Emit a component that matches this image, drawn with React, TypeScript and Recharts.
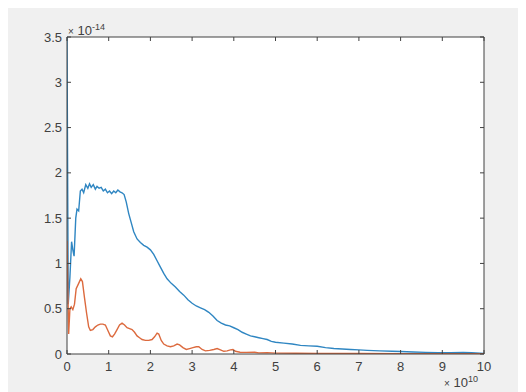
import React from "react";
import {
  CartesianGrid,
  Line,
  LineChart,
  XAxis,
  YAxis,
} from "recharts";

// x in units of 1e10, y in units of 1e-14
const xTicks = [0, 1, 2, 3, 4, 5, 6, 7, 8, 9, 10];
const yTicks = [0, 0.5, 1, 1.5, 2, 2.5, 3, 3.5];

const blueX = [
  0, 0.03, 0.07, 0.11, 0.14, 0.17, 0.21, 0.24, 0.28, 0.32, 0.36, 0.4, 0.45, 0.5,
  0.54, 0.58, 0.63, 0.68, 0.72, 0.77, 0.82, 0.87, 0.92, 0.97, 1.02, 1.07, 1.12,
  1.17, 1.22, 1.27, 1.32, 1.37, 1.42, 1.48, 1.54, 1.6, 1.68, 1.76, 1.84, 1.92,
  2.0, 2.08, 2.16, 2.24, 2.32, 2.4, 2.5, 2.6, 2.7, 2.8, 2.9, 3.0, 3.1, 3.2, 3.3,
  3.4, 3.5, 3.6, 3.7, 3.8, 3.9, 4.0, 4.1, 4.2, 4.3, 4.4, 4.5, 4.6, 4.7, 4.8, 4.9,
  5.0, 5.2, 5.4, 5.6, 5.8, 6.0, 6.2, 6.4, 6.6, 6.8, 7.0, 7.2, 7.5, 7.8, 8.0, 8.3,
  8.6, 8.9, 9.2, 9.5, 9.7, 10,
];
const blueY = [
  3.5, 0.55, 0.85, 1.24, 1.15, 1.08, 1.5, 1.6, 1.58, 1.8, 1.82, 1.78, 1.87, 1.83,
  1.88, 1.84, 1.87, 1.82, 1.85, 1.83, 1.84, 1.8, 1.82, 1.78, 1.8, 1.77, 1.8,
  1.78, 1.81, 1.79, 1.78, 1.76, 1.68, 1.55, 1.45, 1.35, 1.27, 1.23, 1.2, 1.18,
  1.15, 1.1, 1.03, 0.96, 0.89, 0.83, 0.78, 0.74, 0.69, 0.65, 0.6, 0.56, 0.53,
  0.51, 0.49, 0.46, 0.42, 0.37, 0.34, 0.32, 0.31, 0.29, 0.27, 0.24, 0.22, 0.2,
  0.19, 0.18, 0.17, 0.16, 0.14, 0.13, 0.12, 0.11, 0.095, 0.09, 0.085, 0.07, 0.06,
  0.055, 0.05, 0.045, 0.04, 0.035, 0.03, 0.027, 0.022, 0.018, 0.015, 0.014,
  0.016, 0.015, 0.005,
];

const orangeX = [
  0, 0.04, 0.07, 0.1, 0.14, 0.18, 0.22, 0.28, 0.33, 0.37, 0.42, 0.47, 0.52, 0.56,
  0.62, 0.68, 0.74, 0.8, 0.86, 0.92, 0.98, 1.04, 1.09, 1.14, 1.2, 1.26, 1.32,
  1.38, 1.44, 1.5, 1.56, 1.62, 1.68, 1.74, 1.8, 1.88, 1.96, 2.04, 2.1, 2.16, 2.2,
  2.26, 2.32, 2.4, 2.48, 2.56, 2.64, 2.7, 2.78, 2.86, 2.94, 3.02, 3.1, 3.16, 3.24,
  3.32, 3.42, 3.52, 3.6, 3.68, 3.76, 3.84, 3.92, 3.98, 4.04, 4.15, 4.3, 4.5, 4.6,
  4.8, 5.0, 5.5, 6.0, 7.0, 8.0, 9.0, 10,
];
const orangeY = [
  1.25, 0.22, 0.5, 0.52, 0.49, 0.55, 0.72, 0.78, 0.83, 0.8, 0.62, 0.45, 0.3, 0.26,
  0.27, 0.3, 0.32, 0.33, 0.33, 0.32, 0.26, 0.2, 0.19, 0.22, 0.27, 0.32, 0.34,
  0.32, 0.29, 0.28, 0.27, 0.24, 0.2, 0.18, 0.16, 0.15, 0.15, 0.16, 0.19, 0.23,
  0.22, 0.15, 0.11, 0.09, 0.08, 0.09, 0.11, 0.1, 0.07, 0.05, 0.06, 0.07, 0.08,
  0.08, 0.05, 0.035, 0.04, 0.05, 0.06, 0.045, 0.03, 0.035, 0.045, 0.05, 0.03,
  0.02, 0.018, 0.02, 0.012, 0.015, 0.01, 0.008, 0.007, 0.005, 0.004, 0.003, 0.002,
];

const blueData = blueX.map((x, i) => ({ x, y: blueY[i] }));
const orangeData = orangeX.map((x, i) => ({ x, y: orangeY[i] }));

const axisColor = "#404040";
const font = "'Liberation Sans', Arial, sans-serif";

export default function App() {
  const noTick = () => <g />;
  return (
    <div
      style={{
        position: "relative",
        width: 518,
        height: 384,
        background: "#f0f0f0",
        fontFamily: font,
        color: axisColor,
      }}
    >
      <LineChart
        width={518}
        height={384}
        margin={{ top: 28, right: 41, left: 0, bottom: 0 }}
      >
        <CartesianGrid fill="#ffffff" horizontal={false} vertical={false} />
        <XAxis
          dataKey="x"
          type="number"
          domain={[0, 10]}
          ticks={xTicks}
          height={38}
          allowDataOverflow
          stroke={axisColor}
          tickSize={-4}
          tickMargin={12}
          tick={{ fontSize: 13, fill: axisColor, fontFamily: font }}
        />
        <XAxis
          xAxisId="top"
          orientation="top"
          dataKey="x"
          type="number"
          domain={[0, 10]}
          ticks={xTicks}
          height={1}
          stroke={axisColor}
          tickSize={-4}
          tick={noTick}
        />
        <YAxis
          type="number"
          domain={[0, 3.5]}
          ticks={yTicks}
          width={59}
          allowDataOverflow
          stroke={axisColor}
          tickSize={-4}
          tickMargin={9}
          tick={{ fontSize: 13, fill: axisColor, fontFamily: font }}
        />
        <YAxis
          yAxisId="right"
          orientation="right"
          type="number"
          domain={[0, 3.5]}
          ticks={yTicks}
          width={1}
          stroke={axisColor}
          tickSize={-4}
          tick={noTick}
        />
        <Line
          data={blueData}
          dataKey="y"
          stroke="#2f86c2"
          strokeWidth={1.4}
          dot={false}
          isAnimationActive={false}
        />
        <Line
          data={orangeData}
          dataKey="y"
          stroke="#dc6a3e"
          strokeWidth={1.4}
          dot={false}
          isAnimationActive={false}
        />
        {/* invisible series so the top/right box axes get drawn */}
        <Line
          data={orangeData}
          dataKey="y"
          xAxisId="top"
          yAxisId="right"
          stroke="none"
          dot={false}
          activeDot={false}
          legendType="none"
          isAnimationActive={false}
        />
      </LineChart>
      <div
        style={{
          position: "absolute",
          left: 60,
          top: 14,
          fontSize: 13,
          whiteSpace: "nowrap",
        }}
      >
        <span style={{ fontSize: 10 }}>×</span> 10
        <sup style={{ fontSize: 9 }}>-14</sup>
      </div>
      <div
        style={{
          position: "absolute",
          left: 436,
          top: 366,
          fontSize: 13,
          whiteSpace: "nowrap",
        }}
      >
        <span style={{ fontSize: 10 }}>×</span> 10
        <sup style={{ fontSize: 9 }}>10</sup>
      </div>
    </div>
  );
}
